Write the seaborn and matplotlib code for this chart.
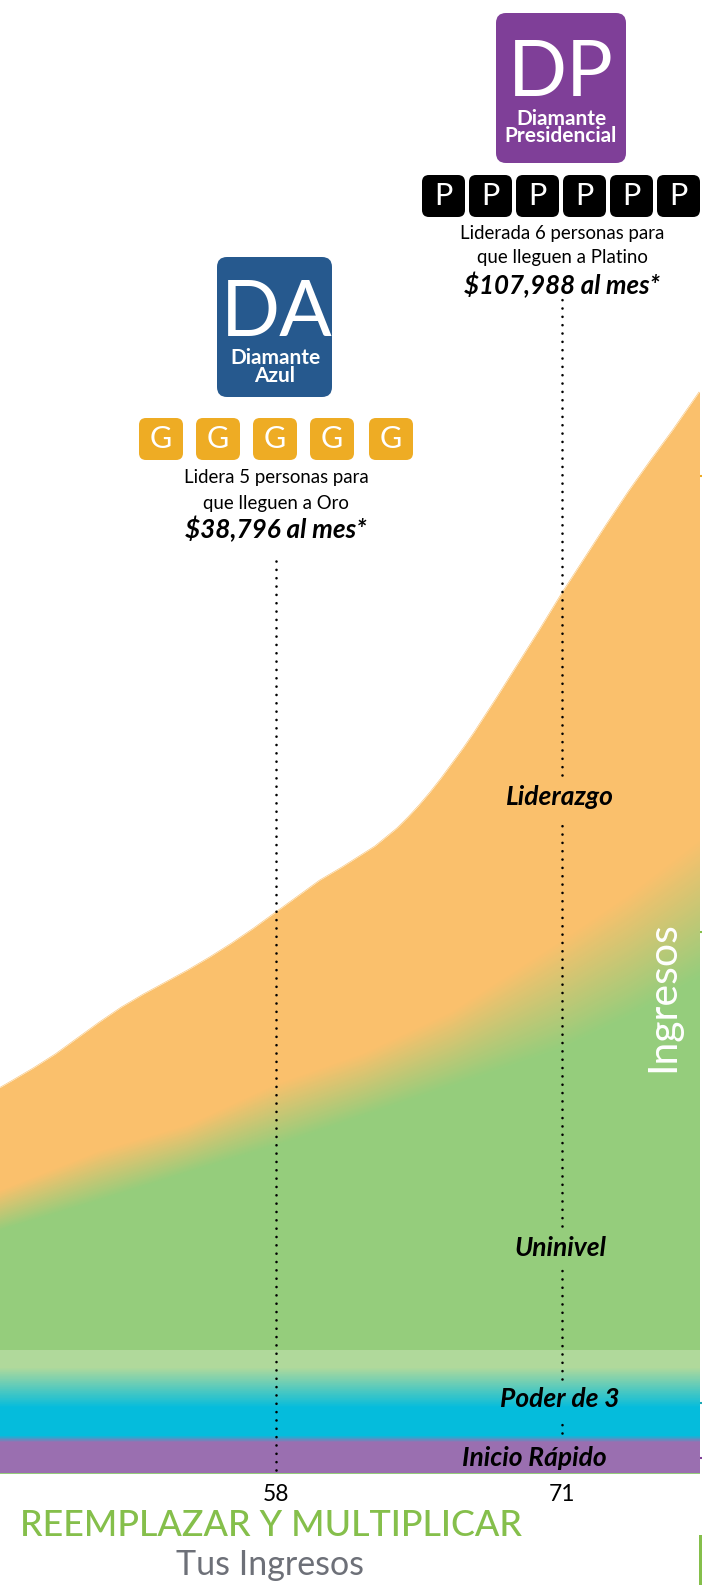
import numpy as np
import pandas as pd
import seaborn as sns
import matplotlib
matplotlib.use('Agg')
import matplotlib.pyplot as plt
from matplotlib.patches import FancyBboxPatch

# meses e ingresos (altura sobre la base del grafico)
months = [45.45, 46, 47, 48, 49, 50, 51, 52, 53, 54, 55, 56, 57, 58, 59, 60, 61, 61.5, 62, 62.5, 63, 63.5,
          64, 64.5, 65, 65.5, 66, 66.5, 67, 68, 69, 70, 71, 72, 73, 74, 75, 76, 77.23]
liderazgo_top = [385, 392, 405, 419, 435, 451, 466, 479, 491, 503, 516, 530, 545, 561, 577, 593, 606, 613, 620, 627, 636, 645,
                 656, 668, 681, 695, 710, 725, 741, 775, 810, 845, 881, 915, 949, 982, 1013, 1043, 1082]

blend_months = [45.45, 50, 54, 58, 62, 66, 71, 74, 77.23]
blend_upper = [283, 323, 349, 390, 421, 463, 535, 580, 635]
blend_lower = [243, 273, 301, 328, 358, 388, 426, 458, 498]

band_months = [45.45, 77.23]
uninivel_base = [123, 123]
poder_fade = [106, 106]
poder_full = [66, 66]
inicio_top = [36, 36]

tick_months = [58, 71]
tick_labels = ['58', '71']
goal_months = [58, 71]
goal_income = [918, 1178]
right_ticks = [997, 541, 70, 15]
right_colors = ['#eeac24', '#85bf4b', '#1ba8b5', '#7f3f98']

ORANGE = '#fac06c'
GREEN = '#95cd7c'
LIGHT = '#b0d99b'
CYAN = '#05bcdc'
PURPLE = '#9a6fb0'

sns.set_theme(style='white')
plt.rcParams['font.family'] = ['Lato', 'DejaVu Sans']

fig = plt.figure(figsize=(7.02, 15.85), dpi=100)
fig.patch.set_facecolor('white')
ax = fig.add_axes([0, 112 / 1585, 699 / 702, 1473 / 1585])

# capa de arriba, Liderazgo (la linea va debajo del relleno)
df = pd.DataFrame({'mes': months, 'ingreso': liderazgo_top})
sns.lineplot(data=df, x='mes', y='ingreso', color=ORANGE, lw=0.4, zorder=0.5, ax=ax)
ax.fill_between(months, 0, liderazgo_top, color=ORANGE, lw=0, zorder=0.8)

# degradado naranja a verde, se pinta de arriba hacia abajo
steps = 60
upper = np.array(blend_upper, dtype=float)
lower = np.array(blend_lower, dtype=float)
for k, c in enumerate(sns.blend_palette([ORANGE, GREEN], steps)):
    ax.fill_between(blend_months, 0, upper + (lower - upper) * k / (steps - 1), color=c, lw=0, antialiased=False)

# Poder de 3
base = np.array(uninivel_base, dtype=float)
fade = np.array(poder_fade, dtype=float)
full = np.array(poder_full, dtype=float)
ax.fill_between(band_months, 0, base, color=LIGHT, lw=0, antialiased=False)
for k, c in enumerate(sns.blend_palette([LIGHT, CYAN], steps)):
    ax.fill_between(band_months, 0, fade + (full - fade) * k / (steps - 1), color=c, lw=0, antialiased=False)

# Inicio Rapido
top = np.array(inicio_top, dtype=float)
for k, c in enumerate(sns.blend_palette([CYAN, PURPLE], 12)):
    ax.fill_between(band_months, 0, top + 2 - 7 * k / 11, color=c, lw=0, antialiased=False)

# lineas punteadas
dots = dict(color='black', lw=1.9, linestyle=(0, (0.01, 3.15)), dash_capstyle='round', zorder=5)
ax.plot([goal_months[0]] * 2, [3, goal_income[0]], **dots)
for a, b in [(40, 56), (94, 204), (247, 654), (698, 1178)]:
    ax.plot([goal_months[1]] * 2, [a, b], **dots)

ax.set_xlim(45.5, 77.2)
ax.set_ylim(0, 1473)
ax.set_xlabel('')
ax.set_ylabel('')
sns.despine(ax=ax, left=True, bottom=True, right=True, top=True)
ax.patch.set_alpha(0)
ax.set_xticks(tick_months)
ax.set_xticklabels(tick_labels, fontsize=16.5, color='black')
ax.tick_params(axis='x', length=0, pad=8)
ax.yaxis.tick_right()
ax.set_yticks(right_ticks)
ax.set_yticklabels([])
ax.tick_params(axis='y', right=True, length=2.4, width=1.5)
for t, c in zip(ax.yaxis.get_major_ticks(), right_colors):
    t.tick2line.set_markeredgecolor(c)

# capa para insignias y textos, en pixeles de la imagen
ov = fig.add_axes([0, 0, 1, 1], facecolor='none')
ov.set_xlim(0, 702)
ov.set_ylim(1585, 0)
ov.axis('off')


def box(x0, y0, x1, y1, color, r):
    ov.add_patch(FancyBboxPatch((x0, y0), x1 - x0, y1 - y0, boxstyle=f'round,pad=0,rounding_size={r}',
                                fc=color, ec='none'))


def label(x, y, s, size, **kw):
    kw.setdefault('color', 'black')
    ov.text(x, y, s, fontsize=size, ha='center', va='center', **kw)


# Diamante Presidencial
box(496, 13, 626, 163, '#7f3f98', 10)
label(561, 75, 'DP', 56, color='white')
label(561, 119, 'Diamante', 15, color='white', fontweight='bold')
label(561, 136.5, 'Presidencial', 15, color='white', fontweight='bold')
for x in [422, 469, 516, 563, 610, 657]:
    box(x, 175, x + 43, 217, 'black', 7)
    label(x + 21.5, 196, 'P', 22, color='white')
label(562, 233, 'Liderada 6 personas para', 13.4)
label(562, 258, 'que lleguen a Platino', 13.4)
label(562, 285, '$107,988 al mes*', 18.6, style='italic', fontweight='bold')

# Diamante Azul
box(217, 257, 332, 397, '#26598e', 10)
label(277, 314, 'DA', 56, color='white')
label(275, 358, 'Diamante', 15, color='white', fontweight='bold')
label(275, 376.5, 'Azul', 15, color='white', fontweight='bold')
for x in [139, 196, 253, 310, 369]:
    box(x, 418, x + 44, 460, '#eeac24', 7)
    label(x + 22, 439, 'G', 22, color='white')
label(276, 478, 'Lidera 5 personas para', 13.4)
label(276, 503, 'que lleguen a Oro', 13.4)
label(276, 529, '$38,796 al mes*', 18.8, style='italic', fontweight='bold')

# nombres de las capas
label(560, 797, 'Liderazgo', 19, style='italic', fontweight='bold')
label(560, 1248, 'Uninivel', 19, style='italic', fontweight='bold')
label(560, 1399, 'Poder de 3', 19, style='italic', fontweight='bold')
label(534, 1458, 'Inicio Rápido', 19, style='italic', fontweight='bold')
label(663, 997, 'Ingresos', 29.5, color='white', rotation=90)

# titulos de abajo
label(271, 1525, 'REEMPLAZAR Y MULTIPLICAR', 25.8, color='#85bf4b', fontweight='medium')
label(270, 1565, 'Tus Ingresos', 24.5, color='#6d7078')
ov.add_patch(plt.Rectangle((699, 1535), 3, 50, fc='#85bf4b', ec='none'))

plt.savefig('out.png', dpi=100)
plt.close()
